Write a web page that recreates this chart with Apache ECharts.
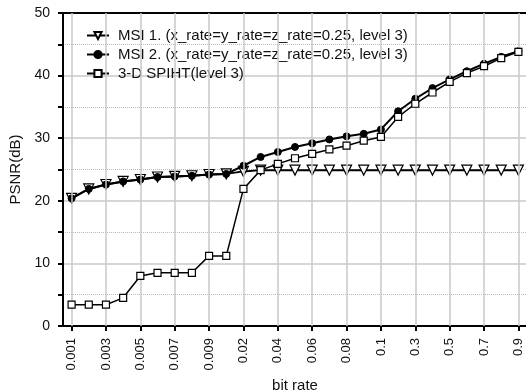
<!DOCTYPE html>
<html>
<head>
<meta charset="utf-8">
<script src="https://cdn.jsdelivr.net/npm/echarts@6/dist/echarts.min.js"></script>
<style>
  html, body { margin: 0; padding: 0; background: #fff; }
  #chart { width: 526px; height: 390px; }
</style>
</head>
<body>
<div id="chart"></div>
<script>
// bit rate categories
const categories = [
  '0.001', '0.002', '0.003', '0.004', '0.005', '0.006', '0.007', '0.008', '0.009',
  '0.01', '0.02', '0.03', '0.04', '0.05', '0.06', '0.07', '0.08', '0.09',
  '0.1', '0.2', '0.3', '0.4', '0.5', '0.6', '0.7', '0.8', '0.9'
];

// categories that carry a label / tick / vertical grid line
const labelledCats = categories.filter((c, i) => i % 2 === 0);

const msi1 = [
  20.4, 21.9, 22.6, 23.1, 23.4, 23.8, 23.9, 24.0, 24.2,
  24.3, 24.7, 24.9, 24.9, 24.9, 24.9, 24.9, 24.9, 24.9,
  24.9, 24.9, 24.9, 24.9, 24.9, 24.9, 24.9, 24.9, 24.9
];
const msi2 = [
  20.4, 21.9, 22.6, 23.1, 23.4, 23.8, 23.9, 24.0, 24.2,
  24.3, 25.6, 27.0, 27.8, 28.6, 29.2, 29.8, 30.3, 30.7,
  31.4, 34.3, 36.3, 38.0, 39.4, 40.7, 41.9, 43.0, 43.9
];
const spiht = [
  3.4, 3.4, 3.4, 4.5, 8.0, 8.5, 8.5, 8.5, 11.2,
  11.2, 21.9, 24.9, 25.9, 26.8, 27.5, 28.2, 28.8, 29.6,
  30.2, 33.4, 35.5, 37.3, 39.0, 40.4, 41.5, 42.8, 43.8
];

const seriesNames = [
  'MSI 1. (x_rate=y_rate=z_rate=0.25, level 3)',
  'MSI 2. (x_rate=y_rate=z_rate=0.25, level 3)',
  '3-D SPIHT(level 3)'
];

const chart = echarts.init(document.getElementById('chart'));
const font = 'Liberation Sans, Arial, sans-serif';

const option = {
  animation: false,
  textStyle: { fontFamily: font, color: '#111' },
  grid: { left: 63, right: -1, top: 13, bottom: 64, containLabel: false, outerBoundsMode: 'none' },
  legend: {
    orient: 'vertical',
    left: 81,
    top: 23,
    itemWidth: 22,
    itemHeight: 9,
    itemGap: 4,
    textStyle: { fontFamily: font, fontSize: 15, color: '#111', padding: [0, 0, 0, 4] },
    data: seriesNames
  },
  xAxis: [
    {
      type: 'category',
      data: categories,
      boundaryGap: true,
      name: 'bit rate',
      nameLocation: 'middle',
      nameGap: 47,
      nameTextStyle: { fontFamily: font, fontSize: 15, color: '#111' },
      axisLine: { lineStyle: { color: '#000', width: 2 } },
      axisTick: { show: true, interval: 1, alignWithLabel: true, length: 5, lineStyle: { color: '#000', width: 2 } },
      axisLabel: { interval: 1, rotate: 90, margin: 12, fontSize: 13, color: '#111', fontFamily: font },
      splitLine: { show: false }
    },
    {
      type: 'category',
      data: categories,
      position: 'top',
      axisLine: { lineStyle: { color: '#000', width: 2 } },
      axisTick: { show: false },
      axisLabel: { show: false },
      splitLine: { show: false }
    }
  ],
  yAxis: {
    type: 'value',
    min: 0,
    max: 50,
    interval: 10,
    name: 'PSNR(dB)',
    nameLocation: 'middle',
    nameGap: 40,
    nameTextStyle: { fontFamily: font, fontSize: 15, color: '#111' },
    axisLine: { show: true, lineStyle: { color: '#000', width: 2 } },
    axisTick: { show: true, length: 5, lineStyle: { color: '#000', width: 2 } },
    minorTick: { show: true, splitNumber: 2, length: 5, lineStyle: { color: '#000', width: 2 } },
    axisLabel: { margin: 13, fontSize: 14, color: '#111', fontFamily: font },
    splitLine: { show: true, lineStyle: { color: '#c8c8c8', width: 1.5 } },
    minorSplitLine: { show: true, lineStyle: { color: '#bbb', width: 1, type: 'dotted' } }
  },
  series: [
    {
      // vertical grid lines at the labelled categories
      name: 'vgrid',
      type: 'line',
      data: [],
      silent: true,
      z: 1,
      markLine: {
        silent: true,
        symbol: 'none',
        label: { show: false },
        lineStyle: { color: '#c8c8c8', width: 1.5, type: 'solid' },
        data: labelledCats.map(c => ({ xAxis: c }))
      }
    },
    {
      name: seriesNames[0],
      type: 'line',
      data: msi1,
      symbol: 'triangle',
      symbolRotate: 180,
      symbolSize: 10,
      lineStyle: { color: '#000', width: 2 },
      itemStyle: { color: '#fff', borderColor: '#000', borderWidth: 1.2 },
      z: 3
    },
    {
      name: seriesNames[1],
      type: 'line',
      data: msi2,
      symbol: 'circle',
      symbolSize: 7,
      lineStyle: { color: '#000', width: 2 },
      itemStyle: { color: '#000', borderColor: '#000', borderWidth: 1 },
      z: 4
    },
    {
      name: seriesNames[2],
      type: 'line',
      data: spiht,
      symbol: 'rect',
      symbolSize: 7,
      lineStyle: { color: '#000', width: 1.5 },
      itemStyle: { color: '#fff', borderColor: '#000', borderWidth: 1.2 },
      z: 5
    }
  ]
};

chart.setOption(option);
</script>
</body>
</html>
